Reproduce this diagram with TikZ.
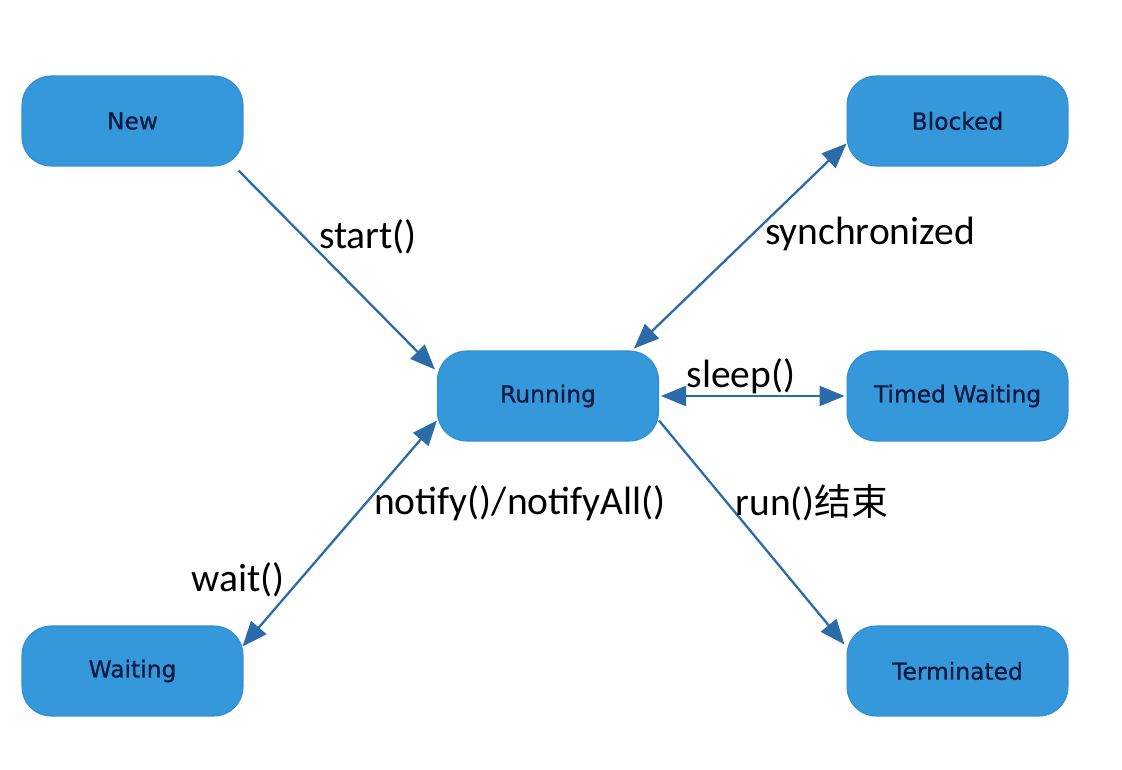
\documentclass[tikz,border=0pt]{standalone}
\usepackage{fontspec}
\setmainfont{Carlito}
\newfontfamily\nodefont[FakeBold=0.8]{DejaVu Sans}
\newfontfamily\cjkfont{Noto Sans CJK SC}
\usetikzlibrary{arrows.meta,calc}
\definecolor{boxblue}{RGB}{52,152,219}
\definecolor{boxedge}{RGB}{48,142,208}
\definecolor{arrowblue}{RGB}{43,108,168}
\definecolor{boxtext}{RGB}{14,26,64}
\begin{document}
\begin{tikzpicture}[x=0.02cm,y=-0.02cm,
  state/.style={draw=boxedge,line width=0.6pt,fill=boxblue,rounded corners=0.58cm,
    minimum width=4.42cm,minimum height=1.8cm,inner sep=0pt,
    font=\nodefont\fontsize{13.3}{15}\selectfont,text=boxtext},
  lbl/.style={font=\fontsize{22.5}{26}\selectfont,text=black,inner sep=0pt},
  conn/.style={draw=arrowblue,line width=1.3pt},
  one/.style={conn,-{Triangle[length=0.5cm,width=0.4cm]}},
  both/.style={conn,{Triangle[length=0.5cm,width=0.4cm]}-{Triangle[length=0.5cm,width=0.4cm]}}]
\useasboundingbox (0,0) rectangle (1122,770);
\fill[white] (0,0) rectangle (1122,770);

\node[state] (new) at (132.5,121) {New};
\node[state] (blocked) at (957.5,121) {Blocked};
\node[state] (running) at (548,396) {Running};
\node[state] (timed) at (957.5,396) {Timed Waiting};
\node[state] (waiting) at (132.5,671) {Waiting};
\node[state] (term) at (957.5,671) {Terminated};

\draw[one] ($(new.south east)+(-5,4)$) -- ($(running.north west)+(-2,19)$);
\draw[both] ($(running.north east)+(-25,-2)$) -- ($(blocked.south west)+(0,-23)$);
\draw[both] ($(running.east)+(2,0)$) -- ($(timed.west)+(-2,0)$);
\draw[one] ($(running.south east)+(0,-21)$) -- ($(term.north west)+(-2,19)$);
\draw[both] ($(waiting.north east)+(-1,21)$) -- ($(running.south west)+(0,-21)$);

\node[lbl] (lstart) at (368,237) {start()};
\node[lbl] (lsync) at (870,234) {synchronized};
\node[lbl] (lsleep) at (741,376) {sleep()};
\node[lbl] (lnotify) at (520,503) {notify()/notifyAll()};
\node[lbl] (lrun) at (812,503) {run()\cjkfont\fontsize{21}{26}\selectfont 结束};
\node[lbl] (lwait) at (238,580) {wait()};
\end{tikzpicture}
\end{document}
